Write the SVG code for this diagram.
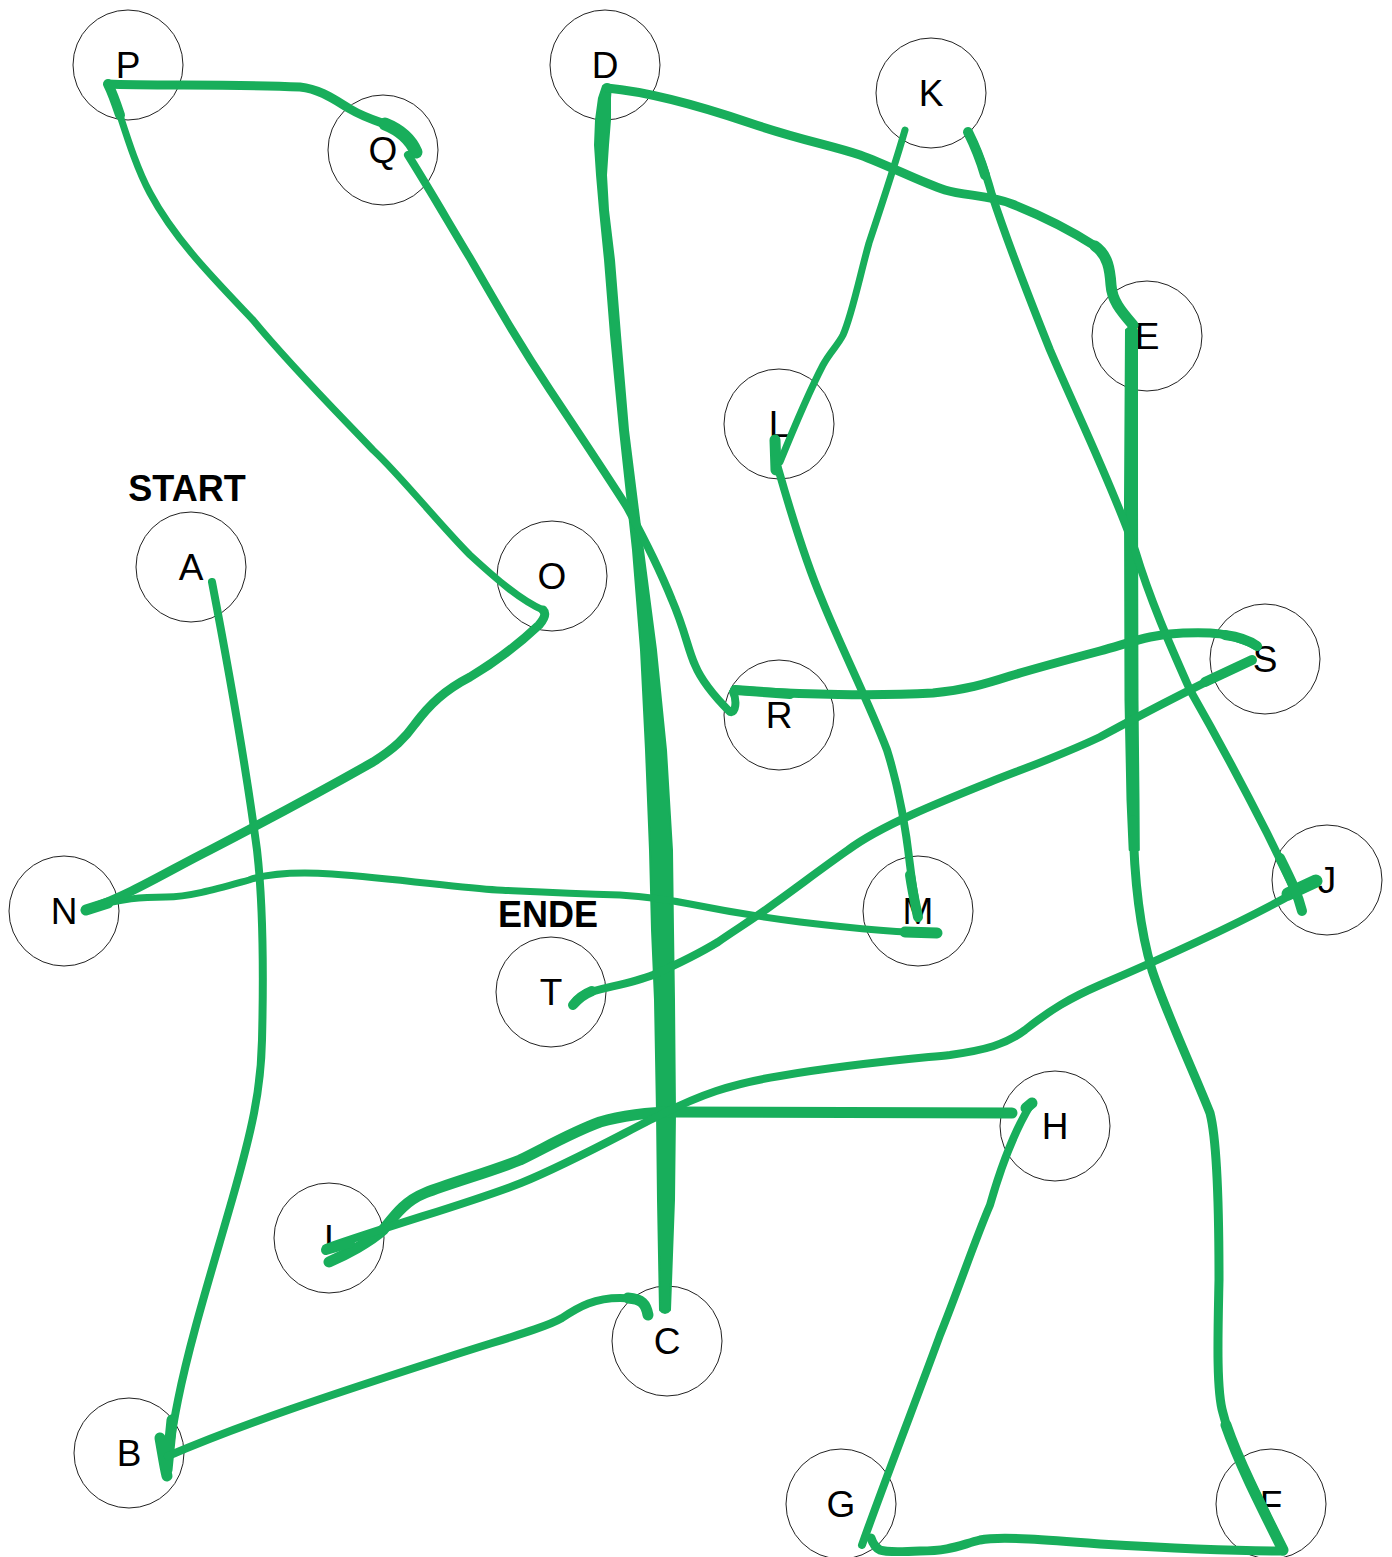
<svg xmlns="http://www.w3.org/2000/svg" width="1392" height="1557" viewBox="0 0 1392 1557">
<style>
.bg{fill:#ffffff}
.node circle{fill:none;stroke:#222;stroke-width:1}
.node text{font-family:"Liberation Sans",Arial,sans-serif;font-size:37px;fill:#000;text-anchor:middle}
.lbl{font-family:"Liberation Sans",Arial,sans-serif;font-size:36px;font-weight:bold;fill:#000;text-anchor:middle}
.ln{fill:none;stroke:#18ae5b;stroke-linecap:round;stroke-linejoin:round}
.fillg{fill:#18ae5b;stroke:#18ae5b;stroke-width:2;stroke-linejoin:round}
.w6{stroke-width:7}
.w7{stroke-width:8}
.w8{stroke-width:9}
.w9{stroke-width:10}
.w10{stroke-width:11}
.w12{stroke-width:13}
</style>
<rect class="bg" x="0" y="0" width="1392" height="1557"/>
<g id="nodes">
<g id="node-P" class="node"><circle cx="128" cy="65" r="55"/><text x="128" y="78">P</text></g>
<g id="node-D" class="node"><circle cx="605" cy="65" r="55"/><text x="605" y="78">D</text></g>
<g id="node-K" class="node"><circle cx="931" cy="93" r="55"/><text x="931" y="106">K</text></g>
<g id="node-Q" class="node"><circle cx="383" cy="150" r="55"/><text x="383" y="163">Q</text></g>
<g id="node-E" class="node"><circle cx="1147" cy="336" r="55"/><text x="1147" y="349">E</text></g>
<g id="node-L" class="node"><circle cx="779" cy="424" r="55"/><text x="779" y="437">L</text></g>
<g id="node-A" class="node"><circle cx="191" cy="567" r="55"/><text x="191" y="580">A</text></g>
<g id="node-O" class="node"><circle cx="552" cy="576" r="55"/><text x="552" y="589">O</text></g>
<g id="node-S" class="node"><circle cx="1265" cy="659" r="55"/><text x="1265" y="672">S</text></g>
<g id="node-R" class="node"><circle cx="779" cy="715" r="55"/><text x="779" y="728">R</text></g>
<g id="node-N" class="node"><circle cx="64" cy="911" r="55"/><text x="64" y="924">N</text></g>
<g id="node-M" class="node"><circle cx="918" cy="911" r="55"/><text x="918" y="924">M</text></g>
<g id="node-J" class="node"><circle cx="1327" cy="880" r="55"/><text x="1327" y="893">J</text></g>
<g id="node-T" class="node"><circle cx="551" cy="992" r="55"/><text x="551" y="1005">T</text></g>
<g id="node-H" class="node"><circle cx="1055" cy="1126" r="55"/><text x="1055" y="1139">H</text></g>
<g id="node-I" class="node"><circle cx="329" cy="1238" r="55"/><text x="329" y="1251">I</text></g>
<g id="node-C" class="node"><circle cx="667" cy="1341" r="55"/><text x="667" y="1354">C</text></g>
<g id="node-B" class="node"><circle cx="129" cy="1453" r="55"/><text x="129" y="1466">B</text></g>
<g id="node-G" class="node"><circle cx="841" cy="1504" r="55"/><text x="841" y="1517">G</text></g>
<g id="node-F" class="node"><circle cx="1271" cy="1504" r="55"/><text x="1271" y="1517">F</text></g>
</g>
<g id="labels">
<text class="lbl" x="187" y="501">START</text>
<text class="lbl" x="548" y="927">ENDE</text>
</g>
<g id="connectors">
<!-- A -> B -->
<path class="ln w7" d="M212,582 C225,650 245,760 257,850 C265,920 263,1000 262,1040 C261,1090 252,1130 232,1200 C212,1270 190,1340 178,1400 C172,1430 168,1455 167,1476"/>
<path class="ln w10" d="M160,1438 C163,1455 165,1468 167,1476 M172,1420 L167,1470"/>
<!-- B -> C -->
<path class="ln w7" d="M168,1456 C240,1425 330,1395 445,1358 C500,1340 545,1328 562,1318 C580,1306 595,1298 620,1298 C640,1298 646,1303 648,1315"/>
<path class="ln w10" d="M628,1298 C642,1299 646,1304 648,1315"/>
<!-- C -> D (tapered) -->
<path class="fillg" d="M603,86 L599,98 L596,120 L595,145 L597,175 L600,210 L605,260 L611,335 L620,430 L633,550 L641,650 L646,750 L650,850 L652,930 L655,1000 L657,1112 L658,1200 L660,1310 Q665,1316 670,1310 L674,1200 L675,1112 L674,1000 L673,930 L672,850 L666,750 L656,650 L643,550 L628,430 L620,335 L614,260 L608,210 L606,175 L608,145 L610,120 L610,98 L611,86 Q607,82 603,86 Z"/>
<!-- D -> E -->
<path class="ln w8" d="M607,88 C650,92 700,106 750,123 C800,140 830,145 860,155 C890,166 920,182 945,190 C965,196 990,195 1012,204 C1040,215 1070,230 1095,246 C1108,255 1110,270 1111,285 C1112,300 1120,310 1133,325"/>
<path class="ln w10" d="M1095,246 C1108,255 1110,270 1111,285 C1112,300 1120,310 1133,325"/>
<!-- E -> F -->
<path class="fillg" d="M1126,330 L1125,500 L1125.5,700 L1127.5,800 L1129.7,850 L1138.8,850 L1138.5,800 L1137.5,700 L1137,500 L1137,330 Q1131,324 1126,330 Z"/>
<path class="ln w8" d="M1133,820 C1134,880 1140,930 1152,970 C1165,1010 1195,1075 1210,1113 C1217,1140 1219,1200 1219,1280 C1218,1330 1216,1390 1223,1413 C1232,1450 1255,1490 1283,1550"/>
<path class="ln w10" d="M1226,1425 C1238,1460 1258,1500 1283,1550"/>
<!-- F -> G -->
<path class="ln w8" d="M1283,1551 C1230,1551 1150,1547 1100,1544 C1050,1540 1000,1536 980,1540 C960,1545 950,1551 920,1551 C900,1552 885,1552 880,1550 C876,1548 873,1544 871,1538"/>
<!-- G -> H -->
<path class="ln w7" d="M862,1545 C885,1480 920,1390 940,1335 C960,1285 975,1240 990,1205 C1000,1170 1015,1130 1031,1104"/>
<path class="ln w10" d="M1026,1108 L1032,1103"/>
<!-- H -> I -->
<path class="ln w10" d="M1012,1113 L672,1112 C650,1112 620,1116 600,1122 C570,1133 545,1148 520,1160 C490,1172 450,1183 425,1193 C405,1201 395,1215 383,1230 C370,1242 345,1255 329,1262"/>
<!-- I -> J -->
<path class="ln w7" d="M326,1248 C400,1222 470,1203 521,1183 C570,1163 620,1135 660,1115 C700,1095 730,1084 780,1076 C850,1064 900,1060 950,1055 C985,1050 1005,1045 1025,1030 C1050,1010 1070,998 1100,985 C1170,955 1260,915 1316,880"/>
<path class="ln w9" d="M326,1250 L350,1243"/>
<path class="ln w12" d="M1288,894 L1316,881"/>
<!-- J -> K -->
<path class="ln w7" d="M1302,911 C1298,895 1290,880 1267,833 C1240,780 1210,725 1190,690 C1170,645 1150,600 1135,550 C1110,480 1080,420 1050,350 C1030,300 1010,250 992,195 C985,170 978,150 968,132"/>
<path class="ln w9" d="M1302,911 C1298,895 1292,882 1280,858"/>
<path class="ln w9" d="M985,175 C980,158 975,146 968,132"/>
<!-- K -> L -->
<path class="ln w6" d="M905,130 C895,165 880,210 869,243 C860,275 852,315 843,335 C838,345 830,352 823,365 C810,390 795,425 780,462"/>
<path class="ln w10" d="M775,440 L776,470"/>
<!-- L -> M -->
<path class="ln w7" d="M778,468 C790,510 805,560 822,600 C840,645 870,705 887,750 C898,785 906,830 910,865 C913,890 916,905 918,917"/>
<path class="ln w9" d="M910,875 C913,895 916,907 918,917"/>
<!-- M -> N -->
<path class="ln w6" d="M937,933 C900,933 850,928 800,922 C760,917 720,910 690,904 C670,900 650,897 620,895 C560,893 520,891 497,890 C460,888 400,879 332,874 C300,872 270,873 249,880 C220,888 190,897 166,897 C145,897 120,898 87,909"/>
<path class="ln w10" d="M905,932 L937,933"/>
<!-- N -> O -->
<path class="ln w8" d="M89,909 C130,895 170,870 210,850 C260,824 320,792 373,762 C395,748 405,738 415,724 C430,704 445,690 470,677 C495,662 520,643 539,625 C545,618 546,613 543,610"/>
<path class="ln w10" d="M86,910 L108,903"/>
<!-- O -> P -->
<path class="ln w6" d="M543,610 C520,600 495,578 470,555 C440,525 400,475 373,450 C330,405 290,365 253,320 C215,280 175,240 150,193 C135,165 125,130 115,100 C112,92 110,88 108,84"/>
<path class="ln w9" d="M120,115 C115,100 111,90 108,84"/>
<!-- P -> Q -->
<path class="ln w8" d="M108,84 C150,86 230,84 300,87 C320,89 335,100 350,109 C365,118 380,122 393,127 C403,131 410,138 416,152"/>
<path class="ln w12" d="M385,124 C400,130 410,138 416,152"/>
<!-- Q -> R -->
<path class="ln w7" d="M408,155 C430,190 450,225 470,258 C500,310 520,345 550,390 C580,435 610,480 627,507 C645,540 660,570 672,600 C685,630 688,650 695,665 C702,682 715,697 730,712 C736,714 737,700 733,692"/>
<!-- R -> S -->
<path class="ln w8" d="M735,690 C800,695 880,696 933,693 C965,690 985,684 1010,676 C1040,667 1070,659 1100,651 C1130,643 1150,634 1183,633 C1210,632 1230,632 1257,646"/>
<path class="ln w9" d="M735,690 L790,694 M1225,635 C1240,637 1250,641 1257,646"/>
<!-- S -> T -->
<path class="ln w7" d="M1252,660 C1200,684 1150,710 1100,737 C1060,756 1020,770 990,782 C940,802 880,826 848,850 C825,866 800,885 775,903 C755,918 735,930 718,942 C700,953 680,963 653,975 C630,984 600,988 585,994 C578,998 575,1001 573,1005"/>
<path class="ln w9" d="M1252,660 C1235,668 1220,675 1205,682"/>
<path class="ln w9" d="M592,991 C582,995 577,1000 573,1005"/>
</g>
</svg>
